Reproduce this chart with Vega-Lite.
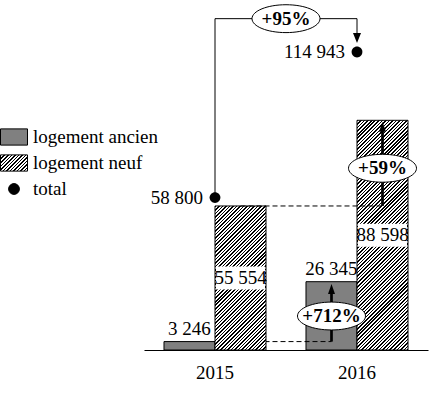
{
"$schema":"https://vega.github.io/schema/vega-lite/v6.json",
"width":284,"height":350,"autosize":"none",
"padding":{"left":144,"top":0,"right":14,"bottom":46},
"background":"#ffffff",
"config":{
 "view":{"stroke":null},
 "locale":{"number":{"decimal":",","thousands":" ","grouping":[3],"currency":["",""]}},
 "font":"Liberation Serif",
 "text":{"font":"Liberation Serif","fontSize":19,"color":"#000000"}
},
"datasets":{
 "bars":[
  {"year":"2015","type":"logement ancien","value":3246},
  {"year":"2015","type":"logement neuf","value":55554},
  {"year":"2016","type":"logement ancien","value":26345},
  {"year":"2016","type":"logement neuf","value":88598}
 ],
 "totals":[
  {"year":"2015","type":"total","value":58800},
  {"year":"2016","type":"total","value":114943}
 ],
 "dash":[
  {"line":"a","order":1,"year":"2015","type":"logement neuf","value":3246},
  {"line":"a","order":2,"year":"2016","type":"logement ancien","value":3246},
  {"line":"b","order":1,"year":"2015","type":"logement neuf","value":55554},
  {"line":"b","order":2,"year":"2016","type":"logement neuf","value":55554}
 ],
 "arrows":[
  {"year":"2016","type":"logement ancien","value":3246,"to":23500},
  {"year":"2016","type":"logement neuf","value":55554,"to":86100}
 ],
 "heads":[
  {"year":"2016","type":"logement ancien","value":23500},
  {"year":"2016","type":"logement neuf","value":86100}
 ],
 "pct":[
  {"year":"2016","type":"logement ancien","value":13100,"label":"+712%"},
  {"year":"2016","type":"logement neuf","value":70100,"label":"+59%"}
 ],
 "path95":[
  {"step":1,"year":"2015","value":58800},
  {"step":2,"year":"2015","value":127800},
  {"step":3,"year":"2016","value":127800},
  {"step":4,"year":"2016","value":120300}
 ],
 "head95":[{"year":"2016","value":120300}],
 "pct95":[{"year":"2016","value":127800,"label":"+95%"}]
},
"resolve":{"scale":{"y":"independent"}},
"layer":[
 {
  "encoding":{
   "x":{"field":"year","type":"nominal","scale":{"domain":["2015","2016"],"paddingInner":0,"paddingOuter":0},"axis":{"title":null,"labelFont":"Liberation Serif","labelFontSize":19,"labelColor":"#000000","domainColor":"#000000","domainWidth":1.2,"ticks":false,"tickSize":0,"labelPadding":13,"grid":false,"labelAngle":0}},
   "y":{"field":"value","type":"quantitative","scale":{"domain":[0,135000],"nice":false,"zero":true},"axis":null}
  },
  "layer":[
   {"data":{"name":"bars"},"transform":[{"filter":"datum.type === 'logement ancien'"}],
    "mark":{"type":"bar","stroke":"#000000","strokeWidth":1},
    "encoding":{
     "xOffset":{"field":"type","type":"nominal","scale":{"domain":["logement ancien","logement neuf"],"paddingInner":0,"paddingOuter":0.392}},
     "fill":{"field":"type","type":"nominal","scale":{"domain":["logement ancien","logement neuf","total"],"range":["#808080",{"expr":"{gradient:'linear',x1:0,y1:0,x2:9.6283,y2:5.777,stops:[{offset:0,color:'#000'},{offset:0.0045,color:'#000'},{offset:0.0045,color:'#fff'},{offset:0.01,color:'#fff'},{offset:0.01,color:'#000'},{offset:0.0145,color:'#000'},{offset:0.0145,color:'#fff'},{offset:0.02,color:'#fff'},{offset:0.02,color:'#000'},{offset:0.0245,color:'#000'},{offset:0.0245,color:'#fff'},{offset:0.03,color:'#fff'},{offset:0.03,color:'#000'},{offset:0.0345,color:'#000'},{offset:0.0345,color:'#fff'},{offset:0.04,color:'#fff'},{offset:0.04,color:'#000'},{offset:0.0445,color:'#000'},{offset:0.0445,color:'#fff'},{offset:0.05,color:'#fff'},{offset:0.05,color:'#000'},{offset:0.0545,color:'#000'},{offset:0.0545,color:'#fff'},{offset:0.06,color:'#fff'},{offset:0.06,color:'#000'},{offset:0.0645,color:'#000'},{offset:0.0645,color:'#fff'},{offset:0.07,color:'#fff'},{offset:0.07,color:'#000'},{offset:0.0745,color:'#000'},{offset:0.0745,color:'#fff'},{offset:0.08,color:'#fff'},{offset:0.08,color:'#000'},{offset:0.0845,color:'#000'},{offset:0.0845,color:'#fff'},{offset:0.09,color:'#fff'},{offset:0.09,color:'#000'},{offset:0.0945,color:'#000'},{offset:0.0945,color:'#fff'},{offset:0.1,color:'#fff'},{offset:0.1,color:'#000'},{offset:0.1045,color:'#000'},{offset:0.1045,color:'#fff'},{offset:0.11,color:'#fff'},{offset:0.11,color:'#000'},{offset:0.1145,color:'#000'},{offset:0.1145,color:'#fff'},{offset:0.12,color:'#fff'},{offset:0.12,color:'#000'},{offset:0.1245,color:'#000'},{offset:0.1245,color:'#fff'},{offset:0.13,color:'#fff'}]}"},"#000000"]},
      "legend":{"title":null,"orient":"none","legendX":-144,"legendY":123,"padding":0,"rowPadding":1,"labelOffset":5,"labelFont":"Liberation Serif","labelFontSize":19,"labelColor":"#000000","labelLimit":300,"symbolSize":729,"symbolStrokeColor":"#000000","symbolStrokeWidth":1}
     }
    }
   },
   {"data":{"name":"dash"},"transform":[{"filter":"datum.line === 'a'"}],
    "mark":{"type":"line","color":"#000000","strokeWidth":1,"strokeDash":[5,3]},
    "encoding":{
     "xOffset":{"field":"type","type":"nominal","scale":{"domain":["logement ancien","logement neuf"],"paddingInner":0,"paddingOuter":0.392}},
     "order":{"field":"order","type":"quantitative"}
    }
   },
   {"data":{"name":"bars"},"transform":[{"filter":"datum.type === 'logement neuf' && datum.year === '2015'"}],
    "mark":{"type":"bar","stroke":"#000000","strokeWidth":1,"fill":{"gradient":"linear","x1":0,"y1":0,"x2":0.77245,"y2":2.1814,"stops":[
{"offset":0,"color":"#000"},{"offset":0.0045,"color":"#000"},{"offset":0.0045,"color":"#fff"},{"offset":0.01,"color":"#fff"},
{"offset":0.01,"color":"#000"},{"offset":0.0145,"color":"#000"},{"offset":0.0145,"color":"#fff"},{"offset":0.02,"color":"#fff"},
{"offset":0.02,"color":"#000"},{"offset":0.0245,"color":"#000"},{"offset":0.0245,"color":"#fff"},{"offset":0.03,"color":"#fff"},
{"offset":0.03,"color":"#000"},{"offset":0.0345,"color":"#000"},{"offset":0.0345,"color":"#fff"},{"offset":0.04,"color":"#fff"},
{"offset":0.04,"color":"#000"},{"offset":0.0445,"color":"#000"},{"offset":0.0445,"color":"#fff"},{"offset":0.05,"color":"#fff"},
{"offset":0.05,"color":"#000"},{"offset":0.0545,"color":"#000"},{"offset":0.0545,"color":"#fff"},{"offset":0.06,"color":"#fff"},
{"offset":0.06,"color":"#000"},{"offset":0.0645,"color":"#000"},{"offset":0.0645,"color":"#fff"},{"offset":0.07,"color":"#fff"},
{"offset":0.07,"color":"#000"},{"offset":0.0745,"color":"#000"},{"offset":0.0745,"color":"#fff"},{"offset":0.08,"color":"#fff"},
{"offset":0.08,"color":"#000"},{"offset":0.0845,"color":"#000"},{"offset":0.0845,"color":"#fff"},{"offset":0.09,"color":"#fff"},
{"offset":0.09,"color":"#000"},{"offset":0.0945,"color":"#000"},{"offset":0.0945,"color":"#fff"},{"offset":0.1,"color":"#fff"},
{"offset":0.1,"color":"#000"},{"offset":0.1045,"color":"#000"},{"offset":0.1045,"color":"#fff"},{"offset":0.11,"color":"#fff"},
{"offset":0.11,"color":"#000"},{"offset":0.1145,"color":"#000"},{"offset":0.1145,"color":"#fff"},{"offset":0.12,"color":"#fff"},
{"offset":0.12,"color":"#000"},{"offset":0.1245,"color":"#000"},{"offset":0.1245,"color":"#fff"},{"offset":0.13,"color":"#fff"},
{"offset":0.13,"color":"#000"},{"offset":0.1345,"color":"#000"},{"offset":0.1345,"color":"#fff"},{"offset":0.14,"color":"#fff"},
{"offset":0.14,"color":"#000"},{"offset":0.1445,"color":"#000"},{"offset":0.1445,"color":"#fff"},{"offset":0.15,"color":"#fff"},
{"offset":0.15,"color":"#000"},{"offset":0.1545,"color":"#000"},{"offset":0.1545,"color":"#fff"},{"offset":0.16,"color":"#fff"},
{"offset":0.16,"color":"#000"},{"offset":0.1645,"color":"#000"},{"offset":0.1645,"color":"#fff"},{"offset":0.17,"color":"#fff"},
{"offset":0.17,"color":"#000"},{"offset":0.1745,"color":"#000"},{"offset":0.1745,"color":"#fff"},{"offset":0.18,"color":"#fff"},
{"offset":0.18,"color":"#000"},{"offset":0.1845,"color":"#000"},{"offset":0.1845,"color":"#fff"},{"offset":0.19,"color":"#fff"},
{"offset":0.19,"color":"#000"},{"offset":0.1945,"color":"#000"},{"offset":0.1945,"color":"#fff"},{"offset":0.2,"color":"#fff"},
{"offset":0.2,"color":"#000"},{"offset":0.2045,"color":"#000"},{"offset":0.2045,"color":"#fff"},{"offset":0.21,"color":"#fff"},
{"offset":0.21,"color":"#000"},{"offset":0.2145,"color":"#000"},{"offset":0.2145,"color":"#fff"},{"offset":0.22,"color":"#fff"},
{"offset":0.22,"color":"#000"},{"offset":0.2245,"color":"#000"},{"offset":0.2245,"color":"#fff"},{"offset":0.23,"color":"#fff"},
{"offset":0.23,"color":"#000"},{"offset":0.2345,"color":"#000"},{"offset":0.2345,"color":"#fff"},{"offset":0.24,"color":"#fff"},
{"offset":0.24,"color":"#000"},{"offset":0.2445,"color":"#000"},{"offset":0.2445,"color":"#fff"},{"offset":0.25,"color":"#fff"},
{"offset":0.25,"color":"#000"},{"offset":0.2545,"color":"#000"},{"offset":0.2545,"color":"#fff"},{"offset":0.26,"color":"#fff"},
{"offset":0.26,"color":"#000"},{"offset":0.2645,"color":"#000"},{"offset":0.2645,"color":"#fff"},{"offset":0.27,"color":"#fff"},
{"offset":0.27,"color":"#000"},{"offset":0.2745,"color":"#000"},{"offset":0.2745,"color":"#fff"},{"offset":0.28,"color":"#fff"},
{"offset":0.28,"color":"#000"},{"offset":0.2845,"color":"#000"},{"offset":0.2845,"color":"#fff"},{"offset":0.29,"color":"#fff"},
{"offset":0.29,"color":"#000"},{"offset":0.2945,"color":"#000"},{"offset":0.2945,"color":"#fff"},{"offset":0.3,"color":"#fff"},
{"offset":0.3,"color":"#000"},{"offset":0.3045,"color":"#000"},{"offset":0.3045,"color":"#fff"},{"offset":0.31,"color":"#fff"},
{"offset":0.31,"color":"#000"},{"offset":0.3145,"color":"#000"},{"offset":0.3145,"color":"#fff"},{"offset":0.32,"color":"#fff"},
{"offset":0.32,"color":"#000"},{"offset":0.3245,"color":"#000"},{"offset":0.3245,"color":"#fff"},{"offset":0.33,"color":"#fff"},
{"offset":0.33,"color":"#000"},{"offset":0.3345,"color":"#000"},{"offset":0.3345,"color":"#fff"},{"offset":0.34,"color":"#fff"},
{"offset":0.34,"color":"#000"},{"offset":0.3445,"color":"#000"},{"offset":0.3445,"color":"#fff"},{"offset":0.35,"color":"#fff"},
{"offset":0.35,"color":"#000"},{"offset":0.3545,"color":"#000"},{"offset":0.3545,"color":"#fff"},{"offset":0.36,"color":"#fff"},
{"offset":0.36,"color":"#000"},{"offset":0.3645,"color":"#000"},{"offset":0.3645,"color":"#fff"},{"offset":0.37,"color":"#fff"},
{"offset":0.37,"color":"#000"},{"offset":0.3745,"color":"#000"},{"offset":0.3745,"color":"#fff"},{"offset":0.38,"color":"#fff"},
{"offset":0.38,"color":"#000"},{"offset":0.3845,"color":"#000"},{"offset":0.3845,"color":"#fff"},{"offset":0.39,"color":"#fff"},
{"offset":0.39,"color":"#000"},{"offset":0.3945,"color":"#000"},{"offset":0.3945,"color":"#fff"},{"offset":0.4,"color":"#fff"},
{"offset":0.4,"color":"#000"},{"offset":0.4045,"color":"#000"},{"offset":0.4045,"color":"#fff"},{"offset":0.41,"color":"#fff"},
{"offset":0.41,"color":"#000"},{"offset":0.4145,"color":"#000"},{"offset":0.4145,"color":"#fff"},{"offset":0.42,"color":"#fff"},
{"offset":0.42,"color":"#000"},{"offset":0.4245,"color":"#000"},{"offset":0.4245,"color":"#fff"},{"offset":0.43,"color":"#fff"},
{"offset":0.43,"color":"#000"},{"offset":0.4345,"color":"#000"},{"offset":0.4345,"color":"#fff"},{"offset":0.44,"color":"#fff"},
{"offset":0.44,"color":"#000"},{"offset":0.4445,"color":"#000"},{"offset":0.4445,"color":"#fff"},{"offset":0.45,"color":"#fff"},
{"offset":0.45,"color":"#000"},{"offset":0.4545,"color":"#000"},{"offset":0.4545,"color":"#fff"},{"offset":0.46,"color":"#fff"},
{"offset":0.46,"color":"#000"},{"offset":0.4645,"color":"#000"},{"offset":0.4645,"color":"#fff"},{"offset":0.47,"color":"#fff"},
{"offset":0.47,"color":"#000"},{"offset":0.4745,"color":"#000"},{"offset":0.4745,"color":"#fff"},{"offset":0.48,"color":"#fff"},
{"offset":0.48,"color":"#000"},{"offset":0.4845,"color":"#000"},{"offset":0.4845,"color":"#fff"},{"offset":0.49,"color":"#fff"},
{"offset":0.49,"color":"#000"},{"offset":0.4945,"color":"#000"},{"offset":0.4945,"color":"#fff"},{"offset":0.5,"color":"#fff"},
{"offset":0.5,"color":"#000"},{"offset":0.5045,"color":"#000"},{"offset":0.5045,"color":"#fff"},{"offset":0.51,"color":"#fff"},
{"offset":0.51,"color":"#000"},{"offset":0.5145,"color":"#000"},{"offset":0.5145,"color":"#fff"},{"offset":0.52,"color":"#fff"},
{"offset":0.52,"color":"#000"},{"offset":0.5245,"color":"#000"},{"offset":0.5245,"color":"#fff"},{"offset":0.53,"color":"#fff"},
{"offset":0.53,"color":"#000"},{"offset":0.5345,"color":"#000"},{"offset":0.5345,"color":"#fff"},{"offset":0.54,"color":"#fff"},
{"offset":0.54,"color":"#000"},{"offset":0.5445,"color":"#000"},{"offset":0.5445,"color":"#fff"},{"offset":0.55,"color":"#fff"},
{"offset":0.55,"color":"#000"},{"offset":0.5545,"color":"#000"},{"offset":0.5545,"color":"#fff"},{"offset":0.56,"color":"#fff"}
]}},
    "encoding":{
     "xOffset":{"field":"type","type":"nominal","scale":{"domain":["logement ancien","logement neuf"],"paddingInner":0,"paddingOuter":0.392}}
    }
   },
   {"data":{"name":"bars"},"transform":[{"filter":"datum.type === 'logement neuf' && datum.year === '2016'"}],
    "mark":{"type":"bar","stroke":"#000000","strokeWidth":1,"fill":{"gradient":"linear","x1":0,"y1":0,"x2":0.32568,"y2":1.4669,"stops":[
{"offset":0,"color":"#000"},{"offset":0.0045,"color":"#000"},{"offset":0.0045,"color":"#fff"},{"offset":0.01,"color":"#fff"},
{"offset":0.01,"color":"#000"},{"offset":0.0145,"color":"#000"},{"offset":0.0145,"color":"#fff"},{"offset":0.02,"color":"#fff"},
{"offset":0.02,"color":"#000"},{"offset":0.0245,"color":"#000"},{"offset":0.0245,"color":"#fff"},{"offset":0.03,"color":"#fff"},
{"offset":0.03,"color":"#000"},{"offset":0.0345,"color":"#000"},{"offset":0.0345,"color":"#fff"},{"offset":0.04,"color":"#fff"},
{"offset":0.04,"color":"#000"},{"offset":0.0445,"color":"#000"},{"offset":0.0445,"color":"#fff"},{"offset":0.05,"color":"#fff"},
{"offset":0.05,"color":"#000"},{"offset":0.0545,"color":"#000"},{"offset":0.0545,"color":"#fff"},{"offset":0.06,"color":"#fff"},
{"offset":0.06,"color":"#000"},{"offset":0.0645,"color":"#000"},{"offset":0.0645,"color":"#fff"},{"offset":0.07,"color":"#fff"},
{"offset":0.07,"color":"#000"},{"offset":0.0745,"color":"#000"},{"offset":0.0745,"color":"#fff"},{"offset":0.08,"color":"#fff"},
{"offset":0.08,"color":"#000"},{"offset":0.0845,"color":"#000"},{"offset":0.0845,"color":"#fff"},{"offset":0.09,"color":"#fff"},
{"offset":0.09,"color":"#000"},{"offset":0.0945,"color":"#000"},{"offset":0.0945,"color":"#fff"},{"offset":0.1,"color":"#fff"},
{"offset":0.1,"color":"#000"},{"offset":0.1045,"color":"#000"},{"offset":0.1045,"color":"#fff"},{"offset":0.11,"color":"#fff"},
{"offset":0.11,"color":"#000"},{"offset":0.1145,"color":"#000"},{"offset":0.1145,"color":"#fff"},{"offset":0.12,"color":"#fff"},
{"offset":0.12,"color":"#000"},{"offset":0.1245,"color":"#000"},{"offset":0.1245,"color":"#fff"},{"offset":0.13,"color":"#fff"},
{"offset":0.13,"color":"#000"},{"offset":0.1345,"color":"#000"},{"offset":0.1345,"color":"#fff"},{"offset":0.14,"color":"#fff"},
{"offset":0.14,"color":"#000"},{"offset":0.1445,"color":"#000"},{"offset":0.1445,"color":"#fff"},{"offset":0.15,"color":"#fff"},
{"offset":0.15,"color":"#000"},{"offset":0.1545,"color":"#000"},{"offset":0.1545,"color":"#fff"},{"offset":0.16,"color":"#fff"},
{"offset":0.16,"color":"#000"},{"offset":0.1645,"color":"#000"},{"offset":0.1645,"color":"#fff"},{"offset":0.17,"color":"#fff"},
{"offset":0.17,"color":"#000"},{"offset":0.1745,"color":"#000"},{"offset":0.1745,"color":"#fff"},{"offset":0.18,"color":"#fff"},
{"offset":0.18,"color":"#000"},{"offset":0.1845,"color":"#000"},{"offset":0.1845,"color":"#fff"},{"offset":0.19,"color":"#fff"},
{"offset":0.19,"color":"#000"},{"offset":0.1945,"color":"#000"},{"offset":0.1945,"color":"#fff"},{"offset":0.2,"color":"#fff"},
{"offset":0.2,"color":"#000"},{"offset":0.2045,"color":"#000"},{"offset":0.2045,"color":"#fff"},{"offset":0.21,"color":"#fff"},
{"offset":0.21,"color":"#000"},{"offset":0.2145,"color":"#000"},{"offset":0.2145,"color":"#fff"},{"offset":0.22,"color":"#fff"},
{"offset":0.22,"color":"#000"},{"offset":0.2245,"color":"#000"},{"offset":0.2245,"color":"#fff"},{"offset":0.23,"color":"#fff"},
{"offset":0.23,"color":"#000"},{"offset":0.2345,"color":"#000"},{"offset":0.2345,"color":"#fff"},{"offset":0.24,"color":"#fff"},
{"offset":0.24,"color":"#000"},{"offset":0.2445,"color":"#000"},{"offset":0.2445,"color":"#fff"},{"offset":0.25,"color":"#fff"},
{"offset":0.25,"color":"#000"},{"offset":0.2545,"color":"#000"},{"offset":0.2545,"color":"#fff"},{"offset":0.26,"color":"#fff"},
{"offset":0.26,"color":"#000"},{"offset":0.2645,"color":"#000"},{"offset":0.2645,"color":"#fff"},{"offset":0.27,"color":"#fff"},
{"offset":0.27,"color":"#000"},{"offset":0.2745,"color":"#000"},{"offset":0.2745,"color":"#fff"},{"offset":0.28,"color":"#fff"},
{"offset":0.28,"color":"#000"},{"offset":0.2845,"color":"#000"},{"offset":0.2845,"color":"#fff"},{"offset":0.29,"color":"#fff"},
{"offset":0.29,"color":"#000"},{"offset":0.2945,"color":"#000"},{"offset":0.2945,"color":"#fff"},{"offset":0.3,"color":"#fff"},
{"offset":0.3,"color":"#000"},{"offset":0.3045,"color":"#000"},{"offset":0.3045,"color":"#fff"},{"offset":0.31,"color":"#fff"},
{"offset":0.31,"color":"#000"},{"offset":0.3145,"color":"#000"},{"offset":0.3145,"color":"#fff"},{"offset":0.32,"color":"#fff"},
{"offset":0.32,"color":"#000"},{"offset":0.3245,"color":"#000"},{"offset":0.3245,"color":"#fff"},{"offset":0.33,"color":"#fff"},
{"offset":0.33,"color":"#000"},{"offset":0.3345,"color":"#000"},{"offset":0.3345,"color":"#fff"},{"offset":0.34,"color":"#fff"},
{"offset":0.34,"color":"#000"},{"offset":0.3445,"color":"#000"},{"offset":0.3445,"color":"#fff"},{"offset":0.35,"color":"#fff"},
{"offset":0.35,"color":"#000"},{"offset":0.3545,"color":"#000"},{"offset":0.3545,"color":"#fff"},{"offset":0.36,"color":"#fff"},
{"offset":0.36,"color":"#000"},{"offset":0.3645,"color":"#000"},{"offset":0.3645,"color":"#fff"},{"offset":0.37,"color":"#fff"},
{"offset":0.37,"color":"#000"},{"offset":0.3745,"color":"#000"},{"offset":0.3745,"color":"#fff"},{"offset":0.38,"color":"#fff"},
{"offset":0.38,"color":"#000"},{"offset":0.3845,"color":"#000"},{"offset":0.3845,"color":"#fff"},{"offset":0.39,"color":"#fff"},
{"offset":0.39,"color":"#000"},{"offset":0.3945,"color":"#000"},{"offset":0.3945,"color":"#fff"},{"offset":0.4,"color":"#fff"},
{"offset":0.4,"color":"#000"},{"offset":0.4045,"color":"#000"},{"offset":0.4045,"color":"#fff"},{"offset":0.41,"color":"#fff"},
{"offset":0.41,"color":"#000"},{"offset":0.4145,"color":"#000"},{"offset":0.4145,"color":"#fff"},{"offset":0.42,"color":"#fff"},
{"offset":0.42,"color":"#000"},{"offset":0.4245,"color":"#000"},{"offset":0.4245,"color":"#fff"},{"offset":0.43,"color":"#fff"},
{"offset":0.43,"color":"#000"},{"offset":0.4345,"color":"#000"},{"offset":0.4345,"color":"#fff"},{"offset":0.44,"color":"#fff"},
{"offset":0.44,"color":"#000"},{"offset":0.4445,"color":"#000"},{"offset":0.4445,"color":"#fff"},{"offset":0.45,"color":"#fff"},
{"offset":0.45,"color":"#000"},{"offset":0.4545,"color":"#000"},{"offset":0.4545,"color":"#fff"},{"offset":0.46,"color":"#fff"},
{"offset":0.46,"color":"#000"},{"offset":0.4645,"color":"#000"},{"offset":0.4645,"color":"#fff"},{"offset":0.47,"color":"#fff"},
{"offset":0.47,"color":"#000"},{"offset":0.4745,"color":"#000"},{"offset":0.4745,"color":"#fff"},{"offset":0.48,"color":"#fff"},
{"offset":0.48,"color":"#000"},{"offset":0.4845,"color":"#000"},{"offset":0.4845,"color":"#fff"},{"offset":0.49,"color":"#fff"},
{"offset":0.49,"color":"#000"},{"offset":0.4945,"color":"#000"},{"offset":0.4945,"color":"#fff"},{"offset":0.5,"color":"#fff"},
{"offset":0.5,"color":"#000"},{"offset":0.5045,"color":"#000"},{"offset":0.5045,"color":"#fff"},{"offset":0.51,"color":"#fff"},
{"offset":0.51,"color":"#000"},{"offset":0.5145,"color":"#000"},{"offset":0.5145,"color":"#fff"},{"offset":0.52,"color":"#fff"},
{"offset":0.52,"color":"#000"},{"offset":0.5245,"color":"#000"},{"offset":0.5245,"color":"#fff"},{"offset":0.53,"color":"#fff"},
{"offset":0.53,"color":"#000"},{"offset":0.5345,"color":"#000"},{"offset":0.5345,"color":"#fff"},{"offset":0.54,"color":"#fff"},
{"offset":0.54,"color":"#000"},{"offset":0.5445,"color":"#000"},{"offset":0.5445,"color":"#fff"},{"offset":0.55,"color":"#fff"},
{"offset":0.55,"color":"#000"},{"offset":0.5545,"color":"#000"},{"offset":0.5545,"color":"#fff"},{"offset":0.56,"color":"#fff"},
{"offset":0.56,"color":"#000"},{"offset":0.5645,"color":"#000"},{"offset":0.5645,"color":"#fff"},{"offset":0.57,"color":"#fff"},
{"offset":0.57,"color":"#000"},{"offset":0.5745,"color":"#000"},{"offset":0.5745,"color":"#fff"},{"offset":0.58,"color":"#fff"},
{"offset":0.58,"color":"#000"},{"offset":0.5845,"color":"#000"},{"offset":0.5845,"color":"#fff"},{"offset":0.59,"color":"#fff"},
{"offset":0.59,"color":"#000"},{"offset":0.5945,"color":"#000"},{"offset":0.5945,"color":"#fff"},{"offset":0.6,"color":"#fff"},
{"offset":0.6,"color":"#000"},{"offset":0.6045,"color":"#000"},{"offset":0.6045,"color":"#fff"},{"offset":0.61,"color":"#fff"},
{"offset":0.61,"color":"#000"},{"offset":0.6145,"color":"#000"},{"offset":0.6145,"color":"#fff"},{"offset":0.62,"color":"#fff"},
{"offset":0.62,"color":"#000"},{"offset":0.6245,"color":"#000"},{"offset":0.6245,"color":"#fff"},{"offset":0.63,"color":"#fff"},
{"offset":0.63,"color":"#000"},{"offset":0.6345,"color":"#000"},{"offset":0.6345,"color":"#fff"},{"offset":0.64,"color":"#fff"},
{"offset":0.64,"color":"#000"},{"offset":0.6445,"color":"#000"},{"offset":0.6445,"color":"#fff"},{"offset":0.65,"color":"#fff"},
{"offset":0.65,"color":"#000"},{"offset":0.6545,"color":"#000"},{"offset":0.6545,"color":"#fff"},{"offset":0.66,"color":"#fff"},
{"offset":0.66,"color":"#000"},{"offset":0.6645,"color":"#000"},{"offset":0.6645,"color":"#fff"},{"offset":0.67,"color":"#fff"},
{"offset":0.67,"color":"#000"},{"offset":0.6745,"color":"#000"},{"offset":0.6745,"color":"#fff"},{"offset":0.68,"color":"#fff"},
{"offset":0.68,"color":"#000"},{"offset":0.6845,"color":"#000"},{"offset":0.6845,"color":"#fff"},{"offset":0.69,"color":"#fff"},
{"offset":0.69,"color":"#000"},{"offset":0.6945,"color":"#000"},{"offset":0.6945,"color":"#fff"},{"offset":0.7,"color":"#fff"},
{"offset":0.7,"color":"#000"},{"offset":0.7045,"color":"#000"},{"offset":0.7045,"color":"#fff"},{"offset":0.71,"color":"#fff"},
{"offset":0.71,"color":"#000"},{"offset":0.7145,"color":"#000"},{"offset":0.7145,"color":"#fff"},{"offset":0.72,"color":"#fff"},
{"offset":0.72,"color":"#000"},{"offset":0.7245,"color":"#000"},{"offset":0.7245,"color":"#fff"},{"offset":0.73,"color":"#fff"},
{"offset":0.73,"color":"#000"},{"offset":0.7345,"color":"#000"},{"offset":0.7345,"color":"#fff"},{"offset":0.74,"color":"#fff"},
{"offset":0.74,"color":"#000"},{"offset":0.7445,"color":"#000"},{"offset":0.7445,"color":"#fff"},{"offset":0.75,"color":"#fff"},
{"offset":0.75,"color":"#000"},{"offset":0.7545,"color":"#000"},{"offset":0.7545,"color":"#fff"},{"offset":0.76,"color":"#fff"},
{"offset":0.76,"color":"#000"},{"offset":0.7645,"color":"#000"},{"offset":0.7645,"color":"#fff"},{"offset":0.77,"color":"#fff"},
{"offset":0.77,"color":"#000"},{"offset":0.7745,"color":"#000"},{"offset":0.7745,"color":"#fff"},{"offset":0.78,"color":"#fff"},
{"offset":0.78,"color":"#000"},{"offset":0.7845,"color":"#000"},{"offset":0.7845,"color":"#fff"},{"offset":0.79,"color":"#fff"},
{"offset":0.79,"color":"#000"},{"offset":0.7945,"color":"#000"},{"offset":0.7945,"color":"#fff"},{"offset":0.8,"color":"#fff"}
]}},
    "encoding":{
     "xOffset":{"field":"type","type":"nominal","scale":{"domain":["logement ancien","logement neuf"],"paddingInner":0,"paddingOuter":0.392}}
    }
   },
   {"data":{"name":"dash"},"transform":[{"filter":"datum.line === 'b'"}],
    "mark":{"type":"line","color":"#000000","strokeWidth":1,"strokeDash":[5,3]},
    "encoding":{
     "xOffset":{"field":"type","type":"nominal","scale":{"domain":["logement ancien","logement neuf"],"paddingInner":0,"paddingOuter":0.392}},
     "order":{"field":"order","type":"quantitative"}
    }
   },
   {"data":{"name":"bars"},"transform":[{"filter":"datum.type === 'logement ancien'"}],
    "mark":{"type":"text","baseline":"alphabetic","dy":-7,"fontSize":19,"color":"#000000"},
    "encoding":{
     "xOffset":{"field":"type","type":"nominal","scale":{"domain":["logement ancien","logement neuf"],"paddingInner":0,"paddingOuter":0.392}},
     "text":{"field":"value","type":"quantitative","format":",d"}
    }
   },
   {"data":{"name":"arrows"},
    "mark":{"type":"rule","color":"#000000","strokeWidth":2.7},
    "encoding":{
     "xOffset":{"field":"type","type":"nominal","scale":{"domain":["logement ancien","logement neuf"],"paddingInner":0,"paddingOuter":0.392}},
     "y2":{"field":"to"}
    }
   },
   {"data":{"name":"heads"},
    "mark":{"type":"point","shape":"M-0.7,1L0.7,1L0,-1Z","size":100,"filled":true,"color":"#000000","opacity":1,"strokeWidth":0},
    "encoding":{
     "xOffset":{"field":"type","type":"nominal","scale":{"domain":["logement ancien","logement neuf"],"paddingInner":0,"paddingOuter":0.392}}
    }
   },
   {"data":{"name":"pct"},
    "mark":{"type":"point","shape":"M-1,0A1,0.41 0 1,1 1,0A1,0.41 0 1,1 -1,0Z","size":4624,"filled":true,"fill":"#ffffff","stroke":"#000000","strokeWidth":1,"opacity":1},
    "encoding":{
     "xOffset":{"field":"type","type":"nominal","scale":{"domain":["logement ancien","logement neuf"],"paddingInner":0,"paddingOuter":0.392}}
    }
   },
   {"data":{"name":"pct"},
    "mark":{"type":"text","fontWeight":"bold","fontSize":19,"baseline":"middle","color":"#000000"},
    "encoding":{
     "xOffset":{"field":"type","type":"nominal","scale":{"domain":["logement ancien","logement neuf"],"paddingInner":0,"paddingOuter":0.392}},
     "text":{"field":"label","type":"nominal"}
    }
   },
   {"data":{"name":"path95"},
    "mark":{"type":"line","color":"#000000","strokeWidth":1},
    "encoding":{"order":{"field":"step","type":"quantitative"}}
   },
   {"data":{"name":"head95"},
    "mark":{"type":"point","shape":"M-0.8,-1L0.8,-1L0,1Z","size":100,"filled":true,"color":"#000000","opacity":1,"strokeWidth":0},
    "encoding":{}
   },
   {"data":{"name":"pct95"},
    "mark":{"type":"point","shape":"M-1,0A1,0.41 0 1,1 1,0A1,0.41 0 1,1 -1,0Z","size":4624,"filled":true,"fill":"#ffffff","stroke":"#000000","strokeWidth":1,"opacity":1},
    "encoding":{"x":{"field":"year","type":"nominal","bandPosition":0}}
   },
   {"data":{"name":"pct95"},
    "mark":{"type":"text","fontWeight":"bold","fontSize":19,"baseline":"middle","color":"#000000"},
    "encoding":{"x":{"field":"year","type":"nominal","bandPosition":0},"text":{"field":"label","type":"nominal"}}
   },
   {"data":{"name":"totals"},
    "mark":{"type":"point","filled":true,"opacity":1,"strokeWidth":0,"size":729},
    "encoding":{
     "fill":{"field":"type","type":"nominal","scale":{"domain":["logement ancien","logement neuf","total"]},
      "legend":{"title":null,"orient":"none","legendX":-144,"legendY":123,"padding":0,"rowPadding":1,"labelOffset":5,"labelFont":"Liberation Serif","labelFontSize":19,"labelColor":"#000000","labelLimit":300,"symbolSize":729,"symbolStrokeColor":"#000000","symbolStrokeWidth":1}},
     "shape":{"field":"type","type":"nominal","scale":{"domain":["logement ancien","logement neuf","total"],"range":["M-1,-0.6H1V0.6H-1Z","M-1,-0.6H1V0.6H-1Z","M-0.4,0A0.4,0.4 0 1,1 0.4,0A0.4,0.4 0 1,1 -0.4,0Z"]},
      "legend":{"title":null,"orient":"none","legendX":-144,"legendY":123,"padding":0,"rowPadding":1,"labelOffset":5,"labelFont":"Liberation Serif","labelFontSize":19,"labelColor":"#000000","labelLimit":300,"symbolSize":729,"symbolStrokeColor":"#000000","symbolStrokeWidth":1}}
    }
   },
   {"data":{"name":"totals"},
    "mark":{"type":"text","align":"right","baseline":"middle","dx":-12,"fontSize":19,"color":"#000000"},
    "encoding":{"text":{"field":"value","type":"quantitative","format":",d"}}
   }
  ]
 },
 {
  "data":{"name":"bars"},
  "transform":[{"filter":"datum.type === 'logement neuf'"}],
  "encoding":{
   "x":{"field":"year","type":"nominal","scale":{"domain":["2015","2016"],"paddingInner":0,"paddingOuter":0},"axis":{"title":null,"labelFont":"Liberation Serif","labelFontSize":19,"labelColor":"#000000","domainColor":"#000000","domainWidth":1.2,"ticks":false,"tickSize":0,"labelPadding":13,"grid":false,"labelAngle":0}},
   "xOffset":{"field":"type","type":"nominal","scale":{"domain":["logement ancien","logement neuf"],"paddingInner":0,"paddingOuter":0.392}},
   "y":{"field":"value","type":"quantitative","scale":{"domain":[0,270000],"nice":false,"zero":true},"axis":null}
  },
  "layer":[
   {"mark":{"type":"tick","color":"#ffffff","opacity":1,"size":49,"thickness":23}},
   {"mark":{"type":"text","baseline":"middle","fontSize":19,"color":"#000000"},
    "encoding":{"text":{"field":"value","type":"quantitative","format":",d"}}}
  ]
 }
]
}
